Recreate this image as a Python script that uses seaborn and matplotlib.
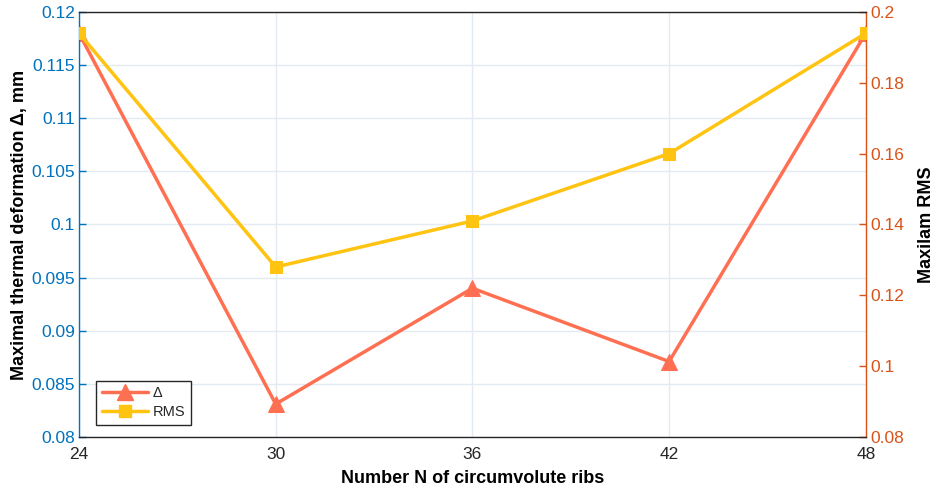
import matplotlib
matplotlib.use("Agg")
import matplotlib.pyplot as plt
import pandas as pd
import seaborn as sns
from matplotlib.lines import Line2D

# data
ribs = [24, 30, 36, 42, 48]
deformation = [0.118, 0.0831, 0.0940, 0.0871, 0.118]   # left axis, mm
rms = [0.194, 0.128, 0.141, 0.160, 0.194]              # right axis
x_ticks = [24, 30, 36, 42, 48]
left_ticks = [0.08, 0.085, 0.09, 0.095, 0.1, 0.105, 0.11, 0.115, 0.12]
right_ticks = [0.08, 0.1, 0.12, 0.14, 0.16, 0.18, 0.2]

df = pd.DataFrame({"N": ribs, "delta": deformation, "rms": rms})

sns.set_style("white")
plt.rcParams["font.family"] = ["Liberation Sans", "DejaVu Sans"]

C_DELTA = "#FF7052"
C_RMS = "#FFC311"
C_LEFT = "#0072BD"
C_RIGHT = "#D95319"

fig = plt.figure(figsize=(9.35, 4.91), dpi=100)
ax = fig.add_axes([0.0845, 0.11, 0.8415, 0.8656])
ax2 = ax.twinx()

sns.lineplot(data=df, x="N", y="delta", ax=ax, color=C_DELTA, lw=2.5,
             marker="^", markersize=11, markeredgecolor=C_DELTA, zorder=3)
sns.lineplot(data=df, x="N", y="rms", ax=ax2, color=C_RMS, lw=2.5,
             marker="s", markersize=9, markeredgecolor=C_RMS, zorder=3)

ax.set_xlim(24, 48)
ax.set_ylim(0.08, 0.12)
ax2.set_ylim(0.08, 0.2)
ax.set_xticks(x_ticks)
ax.set_yticks(left_ticks)
ax.set_yticklabels([f"{v:g}" for v in left_ticks])
ax2.set_yticks(right_ticks)
ax2.set_yticklabels([f"{v:g}" for v in right_ticks])

ax.grid(True, color="#E3EAF2", lw=1)
ax.set_axisbelow(True)

ax.tick_params(axis="x", colors="#262626", labelsize=12.5, direction="in",
               length=5, width=1, pad=7)
ax.tick_params(axis="y", colors=C_LEFT, labelsize=12.5, direction="in",
               length=5, width=1, pad=3)
ax2.tick_params(axis="y", colors=C_RIGHT, labelsize=12.5, direction="in",
                length=5, width=1, pad=3)

for s in ["top", "bottom"]:
    ax2.spines[s].set_color("#262626")
ax2.spines["left"].set_color(C_LEFT)
ax2.spines["right"].set_color(C_RIGHT)
for s in ax.spines.values():
    s.set_visible(False)
for s in ax2.spines.values():
    s.set_linewidth(1)

ax.set_xlabel("Number N of circumvolute ribs", fontsize=13, fontweight="bold",
              color="black", labelpad=6)
ax.set_ylabel("Maximal thermal deformation Δ, mm", fontsize=13,
              fontweight="bold", color="black", labelpad=2)
ax2.set_ylabel("Maxilam RMS", fontsize=13, fontweight="bold", color="black",
               labelpad=10)

handles = [
    Line2D([], [], color=C_DELTA, lw=2.5, marker="^", markersize=11),
    Line2D([], [], color=C_RMS, lw=2.5, marker="s", markersize=9),
]
ax2.legend(handles, ["Δ", "RMS"], loc="lower left",
           bbox_to_anchor=(0.012, 0.012), fontsize=10.5, frameon=True,
           fancybox=False, edgecolor="#262626", framealpha=1,
           handlelength=3.2, borderpad=0.4, labelspacing=0.3,
           handletextpad=0.3)

fig.savefig("out.png", dpi=100)
